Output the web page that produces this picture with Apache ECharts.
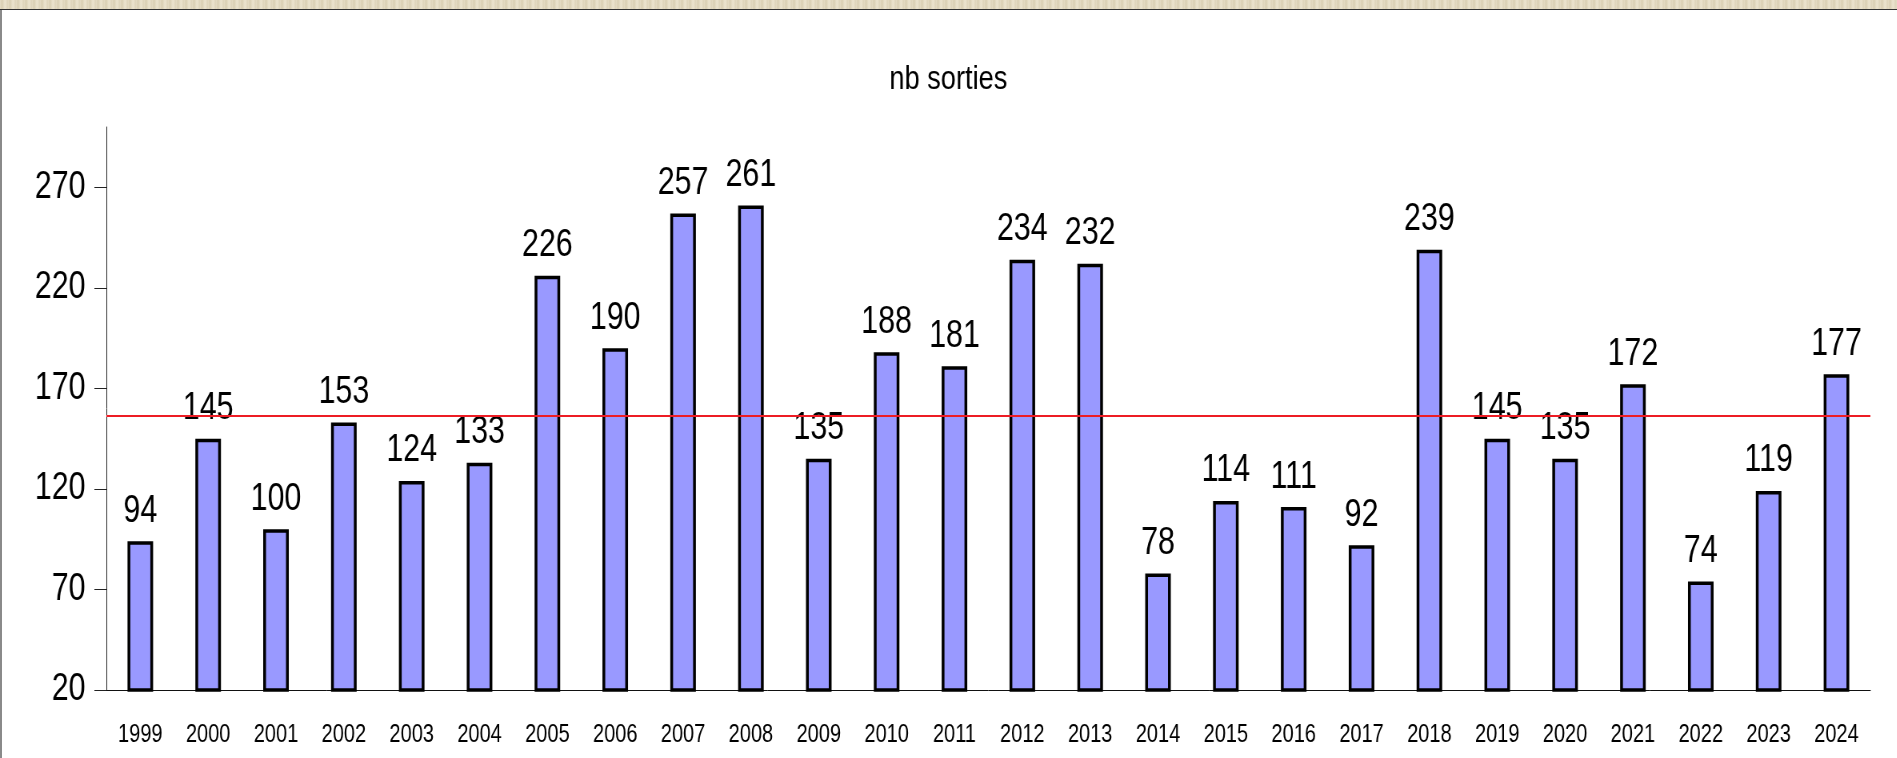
<!DOCTYPE html>
<html>
<head>
<meta charset="utf-8">
<title>nb sorties</title>
<script src="https://cdn.jsdelivr.net/npm/echarts@6/dist/echarts.min.js"></script>
<style>
  html, body {
    margin: 0;
    padding: 0;
    background: #fff;
    overflow: hidden;
  }
  /* bandeau beige en haut */
  #bandeau {
    position: absolute;
    left: 0;
    top: 0;
    width: 1897px;
    height: 9px;
    background: repeating-linear-gradient(90deg, #e6ddc6 0px, #d9cfb3 2px, #ece4cf 5px, #ddd3b9 8px);
    border-bottom: 1px solid #333;
    z-index: 2;
  }
  #bord {
    position: absolute;
    left: 0;
    top: 10px;
    width: 2px;
    height: 748px;
    background: #8a8a8a;
    z-index: 2;
  }
  /* le graphique est dessiné plus large puis resserré horizontalement (texte étroit) */
  #main {
    position: absolute;
    left: 0;
    top: 0;
    width: 2371px;
    height: 758px;
    transform: scaleX(0.8);
    transform-origin: 0 0;
  }
</style>
</head>
<body>
<div id="bandeau"></div>
<div id="bord"></div>
<div id="main"></div>
<script>
// données
const annees = ["1999", "2000", "2001", "2002", "2003", "2004", "2005", "2006", "2007",
  "2008", "2009", "2010", "2011", "2012", "2013", "2014", "2015", "2016", "2017",
  "2018", "2019", "2020", "2021", "2022", "2023", "2024"];
const sorties = [94, 145, 100, 153, 124, 133, 226, 190, 257, 261, 135, 188, 181, 234,
  232, 78, 114, 111, 92, 239, 145, 135, 172, 74, 119, 177];
const graduationsY = [20, 70, 120, 170, 220, 270];
const ligneRouge = 156.5;

const police = "'Liberation Sans', Arial, sans-serif";

let mychart = echarts.init(document.getElementById("main"));
mychart.setOption({
  animation: false,
  backgroundColor: "#fff",
  title: {
    text: "nb sorties",
    left: "center",
    top: 58,
    textStyle: {
      fontFamily: police,
      fontSize: 34,
      fontWeight: "normal",
      color: "#000",
    },
  },
  grid: {
    left: 133,
    right: 33,
    top: 127,
    bottom: 68,
  },
  xAxis: {
    type: "category",
    data: annees,
    axisLine: { lineStyle: { color: "#111", width: 1 } },
    axisTick: { length: 17, lineStyle: { color: "#555" } },
    axisLabel: {
      fontFamily: police,
      fontSize: 25,
      color: "#000",
      margin: 33,
      interval: 0,
    },
  },
  yAxis: {
    type: "value",
    min: 20,
    max: 300,
    splitLine: { show: false },
    axisLine: { show: true, lineStyle: { color: "#222", width: 1 } },
    axisTick: {
      show: true,
      length: 15,
      customValues: graduationsY,
      lineStyle: { color: "#222" },
    },
    axisLabel: {
      fontFamily: police,
      fontSize: 38,
      color: "#000",
      margin: 26,
      customValues: graduationsY,
    },
  },
  series: [
    {
      name: "nb sorties",
      type: "bar",
      data: sorties,
      barWidth: 32,
      itemStyle: {
        color: "#9999ff",
        borderColor: "#000",
        borderWidth: 3.5,
      },
      label: {
        show: true,
        position: "top",
        distance: 11,
        fontFamily: police,
        fontSize: 38,
        color: "#000",
      },
      markLine: {
        silent: true,
        symbol: "none",
        label: { show: false },
        lineStyle: { color: "#ed1c24", width: 2, type: "solid" },
        data: [{ yAxis: ligneRouge }],
      },
    },
  ],
});
</script>
</body>
</html>
